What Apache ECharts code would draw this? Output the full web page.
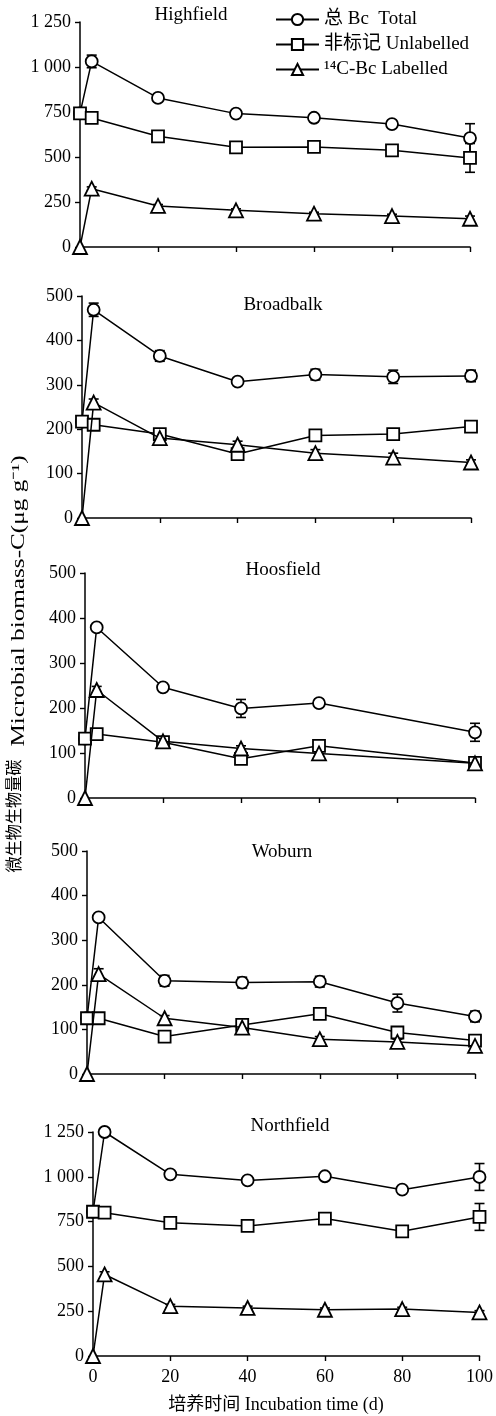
<!DOCTYPE html>
<html><head><meta charset="utf-8">
<script src="https://cdn.jsdelivr.net/npm/echarts@6/dist/echarts.min.js"></script>
<style>html,body{margin:0;padding:0;background:#fff}#c{width:496px;height:1416px}</style>
</head><body><div id="c"></div>
<script>
// ---------- data ----------
const days = [0, 3, 20, 40, 60, 80, 100];
const xTicks = [0, 20, 40, 60, 80, 100];
const panelNames = ['Highfield', 'Broadbalk', 'Hoosfield', 'Woburn', 'Northfield'];
const seriesNames = ['总 Bc  Total', '非标记 Unlabelled', '¹⁴C-Bc Labelled'];

const highfieldYTicks = [0, 250, 500, 750, 1000, 1250];
const highfieldTotal = [742, 1031, 828, 741, 718, 683, 605];
const highfieldUnlabelled = [742, 717, 615, 554, 556, 537, 495];
const highfieldLabelled = [0, 324, 228, 204, 185, 172, 157];
const highfieldTotalErr = [0, 35, 8, 10, 8, 8, 80];
const highfieldUnlabelledErr = [0, 8, 8, 8, 8, 8, 80];
const highfieldLabelledErr = [0, 10, 8, 8, 8, 10, 15];

const broadbalkYTicks = [0, 100, 200, 300, 400, 500];
const broadbalkTotal = [217, 469, 365, 307, 323, 318, 320];
const broadbalkUnlabelled = [217, 210, 189, 144, 186, 189, 206];
const broadbalkLabelled = [0, 260, 180, 165, 146, 136, 125];
const broadbalkTotalErr = [0, 15, 12, 6, 12, 15, 13];
const broadbalkUnlabelledErr = [0, 6, 10, 6, 6, 6, 6];
const broadbalkLabelledErr = [0, 8, 6, 8, 8, 10, 6];

const hoosfieldYTicks = [0, 100, 200, 300, 400, 500];
const hoosfieldTotal = [132, 379, 246, 199, 211, null, 146];
const hoosfieldUnlabelled = [132, 142, 124, 87, 116, null, 78];
const hoosfieldLabelled = [0, 240, 126, 110, 99, null, 77];
const hoosfieldTotalErr = [0, 6, 6, 20, 8, null, 20];
const hoosfieldUnlabelledErr = [0, 6, 6, 6, 6, null, 6];
const hoosfieldLabelledErr = [0, 8, 6, 6, 6, null, 6];

const woburnYTicks = [0, 100, 200, 300, 400, 500];
const woburnTotal = [125, 351, 209, 205, 207, 159, 129];
const woburnUnlabelled = [125, 125, 84, 110, 135, 93, 75];
const woburnLabelled = [0, 224, 125, 104, 78, 72, 63];
const woburnTotalErr = [0, 6, 12, 12, 12, 20, 12];
const woburnUnlabelledErr = [0, 6, 6, 6, 6, 8, 6];
const woburnLabelledErr = [0, 12, 6, 6, 6, 6, 6];

const northfieldYTicks = [0, 250, 500, 750, 1000, 1250];
const northfieldTotal = [805, 1250, 1014, 980, 1003, 928, 999];
const northfieldUnlabelled = [805, 800, 743, 726, 767, 696, 776];
const northfieldLabelled = [0, 455, 278, 268, 258, 262, 243];
const northfieldTotalErr = [0, 10, 10, 10, 10, 10, 75];
const northfieldUnlabelledErr = [0, 10, 10, 10, 10, 10, 75];
const northfieldLabelledErr = [0, 15, 10, 10, 10, 10, 10];

const panels = [
  {ticks: highfieldYTicks, vals: [highfieldTotal, highfieldUnlabelled, highfieldLabelled], errs: [highfieldTotalErr, highfieldUnlabelledErr, highfieldLabelledErr]},
  {ticks: broadbalkYTicks, vals: [broadbalkTotal, broadbalkUnlabelled, broadbalkLabelled], errs: [broadbalkTotalErr, broadbalkUnlabelledErr, broadbalkLabelledErr]},
  {ticks: hoosfieldYTicks, vals: [hoosfieldTotal, hoosfieldUnlabelled, hoosfieldLabelled], errs: [hoosfieldTotalErr, hoosfieldUnlabelledErr, hoosfieldLabelledErr]},
  {ticks: woburnYTicks, vals: [woburnTotal, woburnUnlabelled, woburnLabelled], errs: [woburnTotalErr, woburnUnlabelledErr, woburnLabelledErr]},
  {ticks: northfieldYTicks, vals: [northfieldTotal, northfieldUnlabelled, northfieldLabelled], errs: [northfieldTotalErr, northfieldUnlabelledErr, northfieldLabelledErr]}
];

// ---------- layout / style ----------
const FONT = "'Liberation Serif', 'Noto Sans CJK SC', serif";
const gridBoxes = [
  {left: 80, right: 26, top: 22, height: 225},
  {left: 82, right: 25, top: 296, height: 222},
  {left: 85, right: 21, top: 573, height: 225},
  {left: 87, right: 21, top: 851, height: 223},
  {left: 93, right: 16, top: 1132, height: 224}
];
const titlePos = [[191, 15], [283, 305], [283, 570], [282, 852], [290, 1126]];
const symbols = ['circle', 'rect', 'triangle'];
const symbolSizes = [12, 12, 14];

function fmtY(v) {
  if (v >= 1000) return Math.floor(v / 1000) + ' ' + String(v % 1000).padStart(3, '0');
  return String(v);
}

const grid = [], xAxis = [], yAxis = [], series = [], graphic = [];
panels.forEach((p, i) => {
  grid.push(Object.assign({containLabel: false}, gridBoxes[i]));
  const last = i === panels.length - 1;
  xAxis.push({
    type: 'value', gridIndex: i, min: xTicks[0], max: xTicks[xTicks.length - 1], interval: 20,
    axisLine: {lineStyle: {color: '#000', width: 1.5}},
    axisTick: {length: 5, lineStyle: {color: '#000', width: 1.4}},
    axisLabel: {show: last, color: '#000', fontFamily: FONT, fontSize: 18, margin: 12},
    splitLine: {show: false}
  });
  const t = p.ticks;
  yAxis.push({
    type: 'value', gridIndex: i, min: t[0], max: t[t.length - 1], interval: t[1] - t[0],
    axisLine: {show: true, lineStyle: {color: '#000', width: 1.5}},
    axisTick: {show: true, length: 5, lineStyle: {color: '#000', width: 1.4}},
    axisLabel: {color: '#000', fontFamily: FONT, fontSize: 18, margin: 9, formatter: fmtY},
    splitLine: {show: false}
  });
  p.vals.forEach((vals, s) => {
    const errData = [];
    vals.forEach((v, k) => { if (v != null && p.errs[s][k]) errData.push([days[k], v, p.errs[s][k]]); });
    series.push({
      type: 'custom', xAxisIndex: i, yAxisIndex: i, z: 1, silent: true,
      data: errData,
      renderItem: function (params, api) {
        const x = api.value(0), y = api.value(1), e = api.value(2);
        const top = api.coord([x, y + e]), bot = api.coord([x, y - e]);
        const hw = 5;
        const st = {stroke: '#000', lineWidth: 1.6};
        return {type: 'group', children: [
          {type: 'line', shape: {x1: top[0], y1: top[1], x2: bot[0], y2: bot[1]}, style: st},
          {type: 'line', shape: {x1: top[0] - hw, y1: top[1], x2: top[0] + hw, y2: top[1]}, style: st},
          {type: 'line', shape: {x1: bot[0] - hw, y1: bot[1], x2: bot[0] + hw, y2: bot[1]}, style: st}
        ]};
      }
    });
    series.push({
      name: seriesNames[s], type: 'line', xAxisIndex: i, yAxisIndex: i, z: 2 + s,
      data: days.map((d, k) => [d, vals[k]]),
      connectNulls: true,
      symbol: symbols[s], symbolSize: symbolSizes[s], showAllSymbol: true,
      lineStyle: {color: '#000', width: 1.5},
      itemStyle: {color: '#fff', borderColor: '#000', borderWidth: 1.8},
      emphasis: {disabled: true}
    });
  });
  graphic.push({
    type: 'text', x: titlePos[i][0], y: titlePos[i][1],
    style: {text: panelNames[i], font: '19px ' + FONT, fill: '#000', textAlign: 'center', textVerticalAlign: 'middle'}
  });
});

// axis titles
graphic.push({
  type: 'text', x: 16, y: 816, rotation: Math.PI / 2, scaleX: 0.95,
  style: {text: '微生物生物量碳', font: '17px ' + FONT, fill: '#000', textAlign: 'center', textVerticalAlign: 'middle'}
});
graphic.push({
  type: 'text', x: 19, y: 601, rotation: Math.PI / 2, scaleX: 1.4,
  style: {text: 'Microbial biomass-C(μg g⁻¹)', font: '18px ' + FONT, fill: '#000', textAlign: 'center', textVerticalAlign: 'middle'}
});
graphic.push({
  type: 'text', x: 276, y: 1405,
  style: {text: '培养时间 Incubation time (d)', font: '18px ' + FONT, fill: '#000', textAlign: 'center', textVerticalAlign: 'middle'}
});

const chart = echarts.init(document.getElementById('c'), null, {renderer: 'canvas'});
chart.setOption({
  animation: false,
  backgroundColor: '#fff',
  grid, xAxis, yAxis, series, graphic,
  legend: {
    data: seriesNames, orient: 'vertical', left: 270, top: 5,
    itemWidth: 43, itemHeight: 14, itemGap: 6,
    textStyle: {color: '#000', fontFamily: FONT, fontSize: 19},
    selectedMode: false
  }
});
</script></body></html>
